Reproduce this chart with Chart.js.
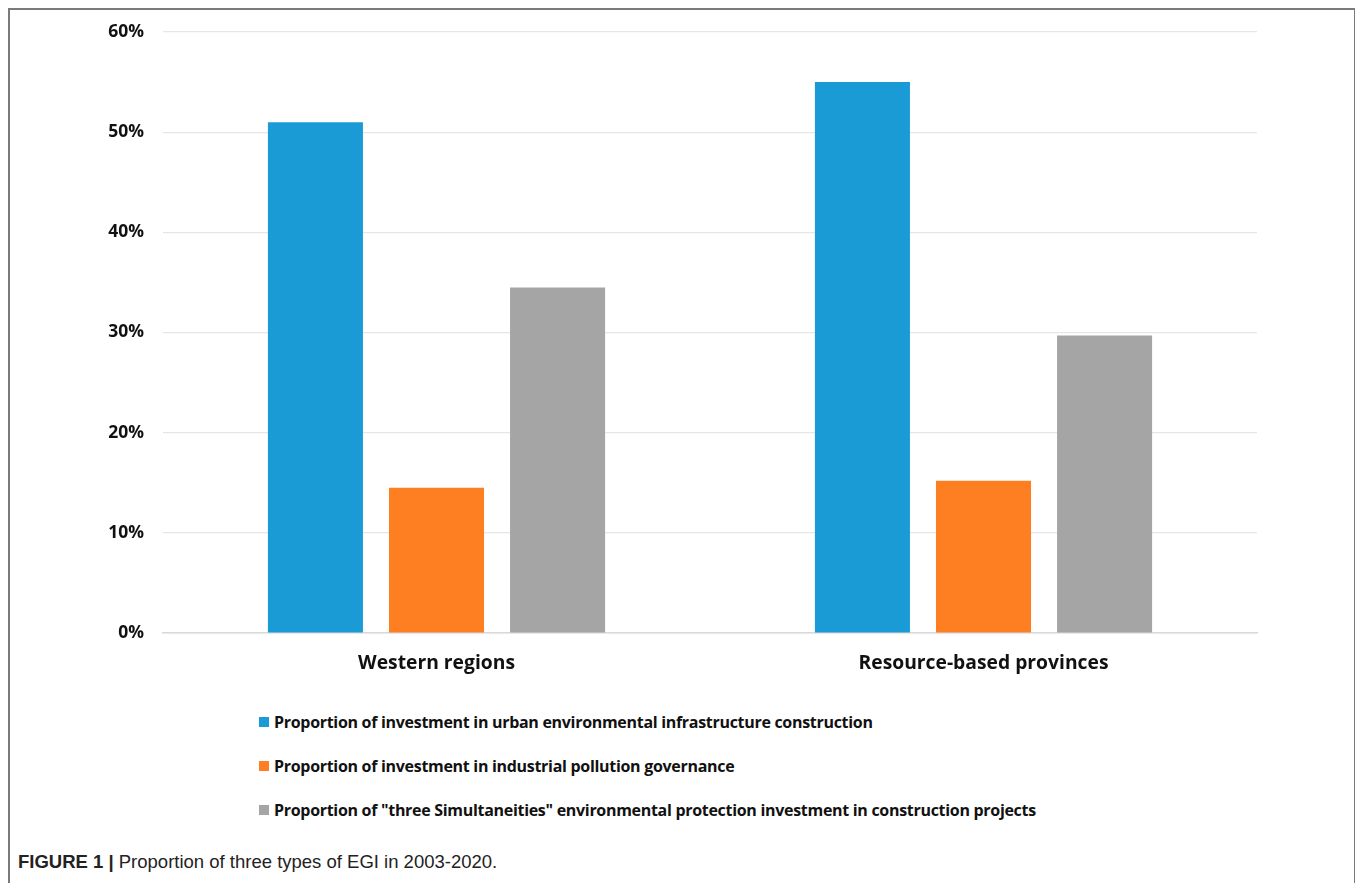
<!DOCTYPE html>
<html>
<head>
<meta charset="utf-8">
<script src="https://cdn.jsdelivr.net/npm/chart.js"></script>
<style>
    body { margin: 0; background: #fff; width: 1355px; height: 883px; overflow: hidden; position: relative; font-family: "Open Sans", sans-serif; }
    .frame { position: absolute; left: 8px; top: 8px; width: 1344px; height: 900px; border: 2px solid #7a7a7a; border-bottom: none; }
    .chart-box { position: absolute; left: 0; top: 0; width: 1355px; height: 693px; }
    #legend { position: absolute; left: 259px; top: 709px; margin: 0; padding: 0; list-style: none; }
    #legend li { height: 44px; font-weight: bold; font-size: 16px; color: #111; letter-spacing: -0.3px; display: flex; align-items: flex-start; line-height: 26px; }
    #legend li span.box { display: inline-block; width: 10px; height: 10px; margin: 8px 5px 0 0; }
    .caption { position: absolute; left: 18px; top: 851px; font-family: "Liberation Sans", Arial, sans-serif; font-size: 18.5px; color: #222; }
    .caption b { font-weight: bold; }
</style>
</head>
<body>
<div class="frame"></div>
<div class="chart-box"><canvas id="egiChart" width="1355" height="693"></canvas></div>
<ul id="legend"></ul>
<div class="caption"><b>FIGURE 1 |</b> Proportion of three types of EGI in 2003-2020.</div>

<script>
// Categories and series (percent)
const regions = ['Western regions', 'Resource-based provinces'];
const seriesNames = [
    'Proportion of investment in urban environmental infrastructure construction',
    'Proportion of investment in industrial pollution governance',
    'Proportion of "three Simultaneities" environmental protection investment in construction projects'
];
const urbanInfra = [51.0, 55.0];
const industrialPollution = [14.5, 15.2];
const threeSimult = [34.5, 29.7];
const seriesColors = ['#1a9bd6', '#fe7f22', '#a5a5a5'];
const yTicks = [0, 10, 20, 30, 40, 50, 60];

document.addEventListener('DOMContentLoaded', function() {
    const chart = createChart();
    buildLegend(chart);
});

/**
 * Create the grouped bar chart
 */
function createChart() {
    const ctx = document.getElementById('egiChart').getContext('2d');
    const values = [urbanInfra, industrialPollution, threeSimult];

    return new Chart(ctx, {
        type: 'bar',
        data: {
            labels: regions,
            datasets: values.map((data, i) => ({
                label: seriesNames[i],
                data: data,
                backgroundColor: seriesColors[i],
                borderWidth: 0,
                categoryPercentage: 0.664,
                barPercentage: 0.785
            }))
        },
        options: {
            responsive: false,
            animation: false,
            layout: { padding: { top: 32, right: 98, left: 0, bottom: 0 } },
            plugins: {
                legend: { display: false },
                tooltip: { enabled: false }
            },
            scales: {
                x: {
                    afterFit: scale => { scale.height = 60; },
                    grid: { display: false, drawTicks: false },
                    border: { color: '#d9d9d9', width: 1.5 },
                    ticks: {
                        padding: 19,
                        color: '#111',
                        font: { family: 'Open Sans', weight: 'bold', size: 19.3 }
                    }
                },
                y: {
                    min: 0,
                    max: 60,
                    afterFit: scale => { scale.width = 163; },
                    afterBuildTicks: scale => { scale.ticks = yTicks.map(v => ({ value: v })); },
                    grid: { color: '#e6e6e6', lineWidth: 1.2, drawTicks: false },
                    border: { display: false },
                    ticks: {
                        padding: 19,
                        color: '#111',
                        font: { family: 'Open Sans', weight: 'bold', size: 17.5 },
                        callback: v => v + '%'
                    }
                }
            }
        }
    });
}

/**
 * Vertical legend built from the chart datasets
 */
function buildLegend(chart) {
    const list = document.getElementById('legend');
    list.innerHTML = chart.data.datasets
        .map(ds => `<li><span class="box" style="background:${ds.backgroundColor}"></span>${ds.label}</li>`)
        .join('');
}
</script>
</body>
</html>
